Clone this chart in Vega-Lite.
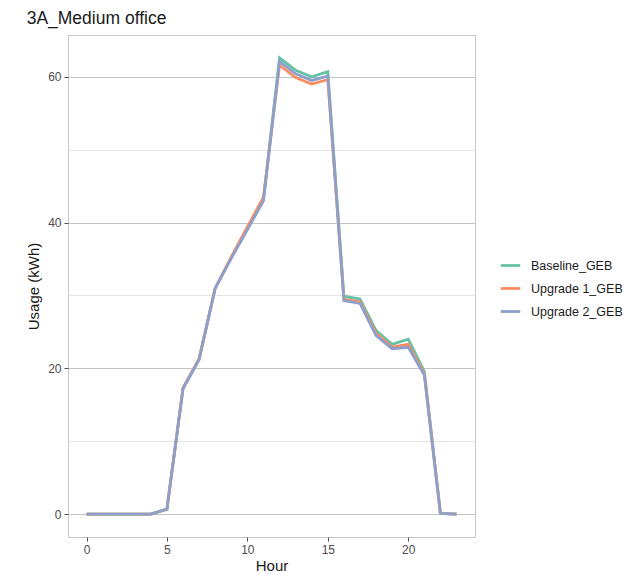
{
  "$schema": "https://vega.github.io/schema/vega-lite/v6.json",
  "autosize": "none",
  "width": 407,
  "height": 502,
  "padding": {"left": 68, "top": 35, "right": 161, "bottom": 42},
  "background": "white",
  "title": {"text": "3A_Medium office", "anchor": "start", "fontSize": 17.5, "font": "Liberation Sans", "fontWeight": "normal", "color": "#1a1a1a", "offset": 8},
  "config": {
    "view": {"stroke": "#c8c8c8", "strokeWidth": 1},
    "font": "Liberation Sans"
  },
  "data": {"values": [
    {"hour": 0, "s": "Baseline_GEB", "v": 0}, {"hour": 1, "s": "Baseline_GEB", "v": 0}, {"hour": 2, "s": "Baseline_GEB", "v": 0}, {"hour": 3, "s": "Baseline_GEB", "v": 0},
    {"hour": 4, "s": "Baseline_GEB", "v": 0}, {"hour": 5, "s": "Baseline_GEB", "v": 0.7}, {"hour": 6, "s": "Baseline_GEB", "v": 17.3}, {"hour": 7, "s": "Baseline_GEB", "v": 21.3},
    {"hour": 8, "s": "Baseline_GEB", "v": 31}, {"hour": 9, "s": "Baseline_GEB", "v": 35.2}, {"hour": 10, "s": "Baseline_GEB", "v": 39.2}, {"hour": 11, "s": "Baseline_GEB", "v": 43.2},
    {"hour": 12, "s": "Baseline_GEB", "v": 62.6}, {"hour": 13, "s": "Baseline_GEB", "v": 60.9}, {"hour": 14, "s": "Baseline_GEB", "v": 60.0}, {"hour": 15, "s": "Baseline_GEB", "v": 60.7},
    {"hour": 16, "s": "Baseline_GEB", "v": 29.9}, {"hour": 17, "s": "Baseline_GEB", "v": 29.5}, {"hour": 18, "s": "Baseline_GEB", "v": 25.2}, {"hour": 19, "s": "Baseline_GEB", "v": 23.3},
    {"hour": 20, "s": "Baseline_GEB", "v": 24.0}, {"hour": 21, "s": "Baseline_GEB", "v": 19.6}, {"hour": 22, "s": "Baseline_GEB", "v": 0.1}, {"hour": 23, "s": "Baseline_GEB", "v": 0},
    {"hour": 0, "s": "Upgrade 1_GEB", "v": 0}, {"hour": 1, "s": "Upgrade 1_GEB", "v": 0}, {"hour": 2, "s": "Upgrade 1_GEB", "v": 0}, {"hour": 3, "s": "Upgrade 1_GEB", "v": 0},
    {"hour": 4, "s": "Upgrade 1_GEB", "v": 0}, {"hour": 5, "s": "Upgrade 1_GEB", "v": 0.7}, {"hour": 6, "s": "Upgrade 1_GEB", "v": 17.3}, {"hour": 7, "s": "Upgrade 1_GEB", "v": 21.3},
    {"hour": 8, "s": "Upgrade 1_GEB", "v": 31}, {"hour": 9, "s": "Upgrade 1_GEB", "v": 35.3}, {"hour": 10, "s": "Upgrade 1_GEB", "v": 39.4}, {"hour": 11, "s": "Upgrade 1_GEB", "v": 43.5},
    {"hour": 12, "s": "Upgrade 1_GEB", "v": 61.6}, {"hour": 13, "s": "Upgrade 1_GEB", "v": 59.9}, {"hour": 14, "s": "Upgrade 1_GEB", "v": 59.0}, {"hour": 15, "s": "Upgrade 1_GEB", "v": 59.6},
    {"hour": 16, "s": "Upgrade 1_GEB", "v": 29.5}, {"hour": 17, "s": "Upgrade 1_GEB", "v": 29.1}, {"hour": 18, "s": "Upgrade 1_GEB", "v": 24.8}, {"hour": 19, "s": "Upgrade 1_GEB", "v": 22.9},
    {"hour": 20, "s": "Upgrade 1_GEB", "v": 23.3}, {"hour": 21, "s": "Upgrade 1_GEB", "v": 19.3}, {"hour": 22, "s": "Upgrade 1_GEB", "v": 0.1}, {"hour": 23, "s": "Upgrade 1_GEB", "v": 0},
    {"hour": 0, "s": "Upgrade 2_GEB", "v": 0}, {"hour": 1, "s": "Upgrade 2_GEB", "v": 0}, {"hour": 2, "s": "Upgrade 2_GEB", "v": 0}, {"hour": 3, "s": "Upgrade 2_GEB", "v": 0},
    {"hour": 4, "s": "Upgrade 2_GEB", "v": 0}, {"hour": 5, "s": "Upgrade 2_GEB", "v": 0.7}, {"hour": 6, "s": "Upgrade 2_GEB", "v": 17.2}, {"hour": 7, "s": "Upgrade 2_GEB", "v": 21.2},
    {"hour": 8, "s": "Upgrade 2_GEB", "v": 31}, {"hour": 9, "s": "Upgrade 2_GEB", "v": 35.1}, {"hour": 10, "s": "Upgrade 2_GEB", "v": 39.0}, {"hour": 11, "s": "Upgrade 2_GEB", "v": 43.0},
    {"hour": 12, "s": "Upgrade 2_GEB", "v": 62.1}, {"hour": 13, "s": "Upgrade 2_GEB", "v": 60.4}, {"hour": 14, "s": "Upgrade 2_GEB", "v": 59.5}, {"hour": 15, "s": "Upgrade 2_GEB", "v": 60.1},
    {"hour": 16, "s": "Upgrade 2_GEB", "v": 29.3}, {"hour": 17, "s": "Upgrade 2_GEB", "v": 28.9}, {"hour": 18, "s": "Upgrade 2_GEB", "v": 24.5}, {"hour": 19, "s": "Upgrade 2_GEB", "v": 22.7},
    {"hour": 20, "s": "Upgrade 2_GEB", "v": 22.9}, {"hour": 21, "s": "Upgrade 2_GEB", "v": 19.1}, {"hour": 22, "s": "Upgrade 2_GEB", "v": 0.1}, {"hour": 23, "s": "Upgrade 2_GEB", "v": 0}
  ]},
  "mark": {"type": "line", "strokeWidth": 2.8},
  "encoding": {
    "x": {
      "field": "hour", "type": "quantitative",
      "scale": {"domain": [-1.15, 24.15], "nice": false, "zero": false},
      "axis": {
        "title": "Hour", "values": [0, 5, 10, 15, 20], "grid": false, "domain": false,
        "tickColor": "#4d4d4d", "tickSize": 4, "labelColor": "#4d4d4d", "labelFontSize": 12, "labelPadding": 3,
        "titleFontSize": 15, "titleFontWeight": "normal", "titleColor": "#1a1a1a", "titlePadding": 3
      }
    },
    "y": {
      "field": "v", "type": "quantitative",
      "scale": {"domain": [-3.13, 65.73], "nice": false, "zero": false},
      "axis": {
        "title": "Usage (kWh)", "values": [0, 10, 20, 30, 40, 50, 60], "domain": false,
        "labelExpr": "datum.value % 20 === 0 ? datum.label : ''",
        "gridColor": {"condition": {"test": "datum.value % 20 === 0", "value": "#c4c4c4"}, "value": "#e3e3e3"},
        "gridWidth": 1.1,
        "tickColor": "#4d4d4d",
        "tickOpacity": {"condition": {"test": "datum.value % 20 === 0", "value": 1}, "value": 0},
        "tickSize": 4, "labelColor": "#4d4d4d", "labelFontSize": 12, "labelPadding": 3,
        "titleFontSize": 15, "titleFontWeight": "normal", "titleColor": "#1a1a1a", "titlePadding": 6
      }
    },
    "color": {
      "field": "s", "type": "nominal",
      "scale": {"domain": ["Baseline_GEB", "Upgrade 1_GEB", "Upgrade 2_GEB"], "range": ["#66c2a5", "#fc8d62", "#8da0cb"]},
      "legend": {
        "title": null, "orient": "none", "legendX": 431, "legendY": 219,
        "symbolType": "stroke", "symbolStrokeWidth": 2.8, "symbolSize": 380,
        "labelFontSize": 12.5, "labelColor": "#1a1a1a", "rowPadding": 5, "labelOffset": 9
      }
    },
    "order": {"field": "s"}
  }
}
